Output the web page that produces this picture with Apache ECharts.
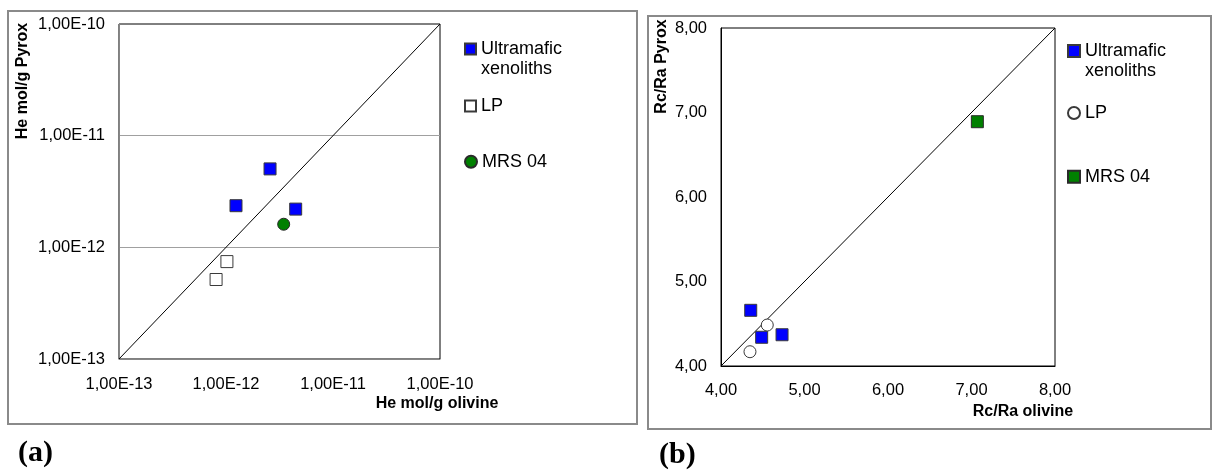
<!DOCTYPE html>
<html><head><meta charset="utf-8">
<script src="https://cdn.jsdelivr.net/npm/echarts@6/dist/echarts.min.js"></script>
<style>html,body{margin:0;padding:0;background:#fff}#c{width:1213px;height:470px}</style>
</head><body><div id="c"></div>
<script>
// ---- Panel (a): He concentration, mol/g ----
const aUltramaficOl = [2.58e-12, 1.24e-12, 4.48e-12];
const aUltramaficPx = [5.04e-12, 2.36e-12, 2.20e-12];
const aLPOl = [1.02e-12, 8.08e-13];
const aLPPx = [7.45e-13, 5.15e-13];
const aMRSOl = [3.46e-12];
const aMRSPx = [1.61e-12];
const aOneToOne = [1e-13, 1e-10];
const aTicks = ['1,00E-13', '1,00E-12', '1,00E-11', '1,00E-10'];
// ---- Panel (b): Rc/Ra ----
const bUltramaficOl = [4.356, 4.487, 4.731];
const bUltramaficPx = [4.659, 4.34, 4.37];
const bLPOl = [4.554, 4.347];
const bLPPx = [4.485, 4.169];
const bMRSOl = [7.07];
const bMRSPx = [6.891];
const bOneToOne = [4, 8];
const bTicks = ['4,00', '5,00', '6,00', '7,00', '8,00'];
const seriesNames = ['Ultramafic xenoliths', 'LP', 'MRS 04'];
const axisTitles = ['He mol/g olivine', 'He mol/g Pyrox', 'Rc/Ra olivine', 'Rc/Ra Pyrox'];
const panelLabels = ['(a)', '(b)'];

const pairs = (xs, ys) => xs.map((x, i) => [x, ys[i]]);
const FONT = "'Liberation Sans', Arial, sans-serif";
const lbl = {color: '#000', fontSize: 16.5, fontFamily: FONT};

function legendFmt(n) {
  const s = n.slice(2);
  return s === 'Ultramafic xenoliths' ? ' \nUltramafic\nxenoliths' : s;
}
function mkLegend(name, left, top, size) {
  return {
    data: [{name: name}], left: left, top: top, orient: 'vertical', padding: 0,
    itemWidth: size, itemHeight: size, itemGap: 0, selectedMode: false,
    formatter: legendFmt,
    textStyle: {color: '#000', fontSize: 18, fontFamily: FONT, lineHeight: 20}
  };
}

const blueSq = {color: '#0000ff', borderColor: '#3a3a3a', borderWidth: 1, opacity: 1};
const whiteSq = {color: '#ffffff', borderColor: '#3a3a3a', borderWidth: 1, opacity: 1};
const green = {color: '#008000', borderColor: '#2a2a2a', borderWidth: 1, opacity: 1};

const option = {
  animation: false,
  backgroundColor: '#fff',
  grid: [
    {left: 119, top: 24, width: 321, height: 335, show: true, borderColor: '#000', borderWidth: 1, backgroundColor: 'transparent'},
    {left: 721, top: 28, width: 334, height: 338, show: true, borderColor: '#000', borderWidth: 1, backgroundColor: 'transparent'}
  ],
  xAxis: [
    {gridIndex: 0, type: 'log', logBase: 10, min: 1e-13, max: 1e-10,
     axisLine: {lineStyle: {color: '#868686'}}, axisTick: {show: false}, splitLine: {show: false},
     axisLabel: Object.assign({margin: 17, formatter: v => aTicks[Math.round(Math.log10(v)) + 13]}, lbl)},
    {gridIndex: 1, type: 'value', min: 4, max: 8, interval: 1,
     axisLine: {lineStyle: {color: '#000'}}, axisTick: {show: false}, splitLine: {show: false},
     axisLabel: Object.assign({margin: 16, formatter: v => bTicks[Math.round(v) - 4]}, lbl)}
  ],
  yAxis: [
    {gridIndex: 0, type: 'log', logBase: 10, min: 1e-13, max: 1e-10,
     axisLine: {show: true, lineStyle: {color: '#868686'}}, axisTick: {show: false},
     splitLine: {show: true, showMinLine: false, showMaxLine: false, lineStyle: {color: '#a0a0a0', width: 1}},
     axisLabel: Object.assign({margin: 14, formatter: v => aTicks[Math.round(Math.log10(v)) + 13]}, lbl)},
    {gridIndex: 1, type: 'value', min: 4, max: 8, interval: 1,
     axisLine: {show: true, lineStyle: {color: '#000'}}, axisTick: {show: false}, splitLine: {show: false},
     axisLabel: Object.assign({margin: 14, formatter: v => bTicks[Math.round(v) - 4]}, lbl)}
  ],
  legend: [
    mkLegend('a:' + seriesNames[0], 464, 19, 11),
    mkLegend('a:' + seriesNames[1], 464, 96, 11),
    mkLegend('a:' + seriesNames[2], 464, 151.7, 12),
    mkLegend('b:' + seriesNames[0], 1067, 21, 12),
    mkLegend('b:' + seriesNames[1], 1067, 103, 12),
    mkLegend('b:' + seriesNames[2], 1067, 166.7, 12)
  ],
  series: [
    {type: 'line', xAxisIndex: 0, yAxisIndex: 0, data: pairs(aOneToOne, aOneToOne), symbol: 'none',
     lineStyle: {color: '#000', width: 1}, silent: true, z: 1},
    {type: 'line', xAxisIndex: 1, yAxisIndex: 1, data: pairs(bOneToOne, bOneToOne), symbol: 'none',
     lineStyle: {color: '#000', width: 1}, silent: true, z: 1},
    {name: 'a:' + seriesNames[0], type: 'scatter', xAxisIndex: 0, yAxisIndex: 0, symbol: 'rect', symbolSize: 12,
     itemStyle: blueSq, data: pairs(aUltramaficOl, aUltramaficPx), z: 3},
    {name: 'a:' + seriesNames[1], type: 'scatter', xAxisIndex: 0, yAxisIndex: 0, symbol: 'rect', symbolSize: 12,
     itemStyle: whiteSq, data: pairs(aLPOl, aLPPx), z: 3},
    {name: 'a:' + seriesNames[2], type: 'scatter', xAxisIndex: 0, yAxisIndex: 0, symbol: 'circle', symbolSize: 12,
     itemStyle: green, data: pairs(aMRSOl, aMRSPx), z: 3},
    {name: 'b:' + seriesNames[0], type: 'scatter', xAxisIndex: 1, yAxisIndex: 1, symbol: 'rect', symbolSize: 12,
     itemStyle: blueSq, data: pairs(bUltramaficOl, bUltramaficPx), z: 3},
    {name: 'b:' + seriesNames[1], type: 'scatter', xAxisIndex: 1, yAxisIndex: 1, symbol: 'circle', symbolSize: 12,
     itemStyle: whiteSq, data: pairs(bLPOl, bLPPx), z: 3},
    {name: 'b:' + seriesNames[2], type: 'scatter', xAxisIndex: 1, yAxisIndex: 1, symbol: 'rect', symbolSize: 12,
     itemStyle: green, data: pairs(bMRSOl, bMRSPx), z: 3}
  ],
  graphic: [
    {type: 'rect', shape: {x: 8, y: 11, width: 629, height: 413}, style: {fill: 'none', stroke: '#8a8a8a', lineWidth: 2}, silent: true, z: -1},
    {type: 'rect', shape: {x: 648, y: 16, width: 563, height: 413}, style: {fill: 'none', stroke: '#8a8a8a', lineWidth: 2}, silent: true, z: -1},
    {type: 'text', x: 437, y: 404, style: {text: axisTitles[0], font: "bold 16px " + FONT, fill: '#000', align: 'center', verticalAlign: 'middle'}},
    {type: 'text', x: 23, y: 81, rotation: Math.PI / 2, style: {text: axisTitles[1], font: "bold 16px " + FONT, fill: '#000', align: 'center', verticalAlign: 'middle'}},
    {type: 'text', x: 1023, y: 411.7, style: {text: axisTitles[2], font: "bold 16px " + FONT, fill: '#000', align: 'center', verticalAlign: 'middle'}},
    {type: 'text', x: 662, y: 66.5, rotation: Math.PI / 2, style: {text: axisTitles[3], font: "bold 16px " + FONT, fill: '#000', align: 'center', verticalAlign: 'middle'}},
    {type: 'text', x: 18, y: 453, style: {text: panelLabels[0], font: "bold 30px 'Liberation Serif', 'Times New Roman', serif", fill: '#000', align: 'left', verticalAlign: 'middle'}},
    {type: 'text', x: 659, y: 455, style: {text: panelLabels[1], font: "bold 30px 'Liberation Serif', 'Times New Roman', serif", fill: '#000', align: 'left', verticalAlign: 'middle'}}
  ]
};
const chart = echarts.init(document.getElementById('c'), null, {renderer: 'canvas'});
chart.setOption(option);
</script>
</body></html>
